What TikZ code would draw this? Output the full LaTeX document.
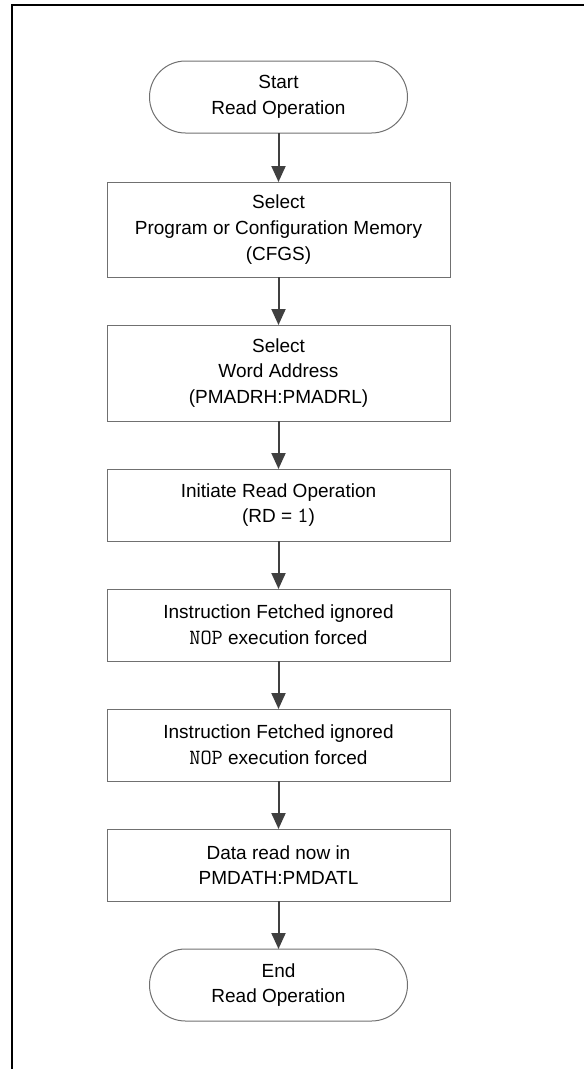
\documentclass[tikz,border=0pt]{standalone}
\usepackage{fontspec}
\setmainfont{Liberation Sans}
\setmonofont[Scale=1.14]{Latin Modern Mono}
\usepackage{tikz}
\usetikzlibrary{positioning,arrows.meta}
\usepackage{xcolor}
\definecolor{boxgray}{HTML}{707070}
\definecolor{arrowgray}{HTML}{404040}

\begin{document}
\begin{tikzpicture}[
    x=1pt, y=1pt,
    box/.style={rectangle, draw=boxgray, line width=1pt, outer sep=0pt, minimum width=343pt, minimum height=72pt, align=center, font=\fontsize{19}{25.7}\selectfont},
    term/.style={box, rounded corners=36pt, minimum width=258pt},
    flow/.style={draw=arrowgray, line width=2pt, -{Triangle[length=16pt, width=14pt]}}
]
    \useasboundingbox (0,0) rectangle (584,-1069);

    % Frame
    \draw[line width=2pt] (12,-1069) -- (12,-5) -- (584,-5);

    % Start
    \node[term] (start) at (278.5,-97) {Start\\Read Operation};

    % Memory select
    \node[box, minimum height=95pt] (cfgs) at (278.5,-229.5) {
        Select\\
        Program or Configuration Memory\\
        (CFGS)
    };

    % Address
    \node[box, minimum height=96pt] (addr) at (278.5,-373) {
        Select\\
        Word Address\\
        (PMADRH:PMADRL)
    };

    % Initiate
    \node[box] (rd) at (278.5,-505) {
        Initiate Read Operation\\
        (RD = \texttt{1})
    };

    % Forced NOPs
    \node[box] (nopa) at (278.5,-625) {
        Instruction Fetched ignored\\
        \texttt{NOP} execution forced
    };
    \node[box] (nopb) at (278.5,-745) {
        Instruction Fetched ignored\\
        \texttt{NOP} execution forced
    };

    % Data
    \node[box] (data) at (278.5,-865) {
        Data read now in\\
        PMDATH:PMDATL
    };

    % End
    \node[term] (end) at (278.5,-985) {End\\Read Operation};

    \draw[flow] (start) -- (cfgs);
    \draw[flow] (cfgs) -- (addr);
    \draw[flow] (addr) -- (rd);
    \draw[flow] (rd) -- (nopa);
    \draw[flow] (nopa) -- (nopb);
    \draw[flow] (nopb) -- (data);
    \draw[flow] (data) -- (end);
\end{tikzpicture}
\end{document}
